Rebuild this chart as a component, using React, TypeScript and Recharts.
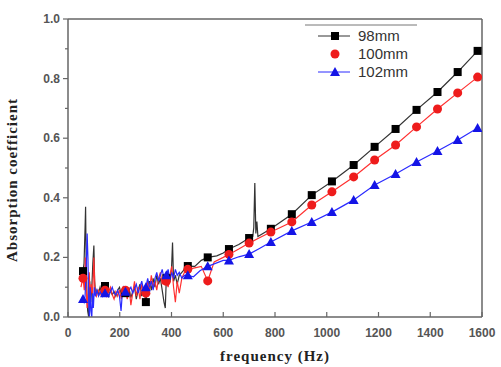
import { LineChart, Line, XAxis, YAxis, ReferenceLine, Legend } from 'recharts';

// [frequency (Hz), absorption coefficient]
const S98: [number, number][] = [
  [50, 0.13], [55, 0.15], [58, 0.154], [62, 0.18], [66, 0.3], [68, 0.37], [70, 0.2], [73, 0.08],
  [76, 0.02], [80, 0.0], [84, 0.12], [88, 0.05], [92, 0.1], [96, 0.18], [100, 0.24], [103, 0.12],
  [107, 0.07], [112, 0.09], [118, 0.08], [124, 0.1], [130, 0.08], [136, 0.09], [143, 0.104],
  [150, 0.085], [157, 0.07], [164, 0.09], [171, 0.075], [178, 0.085], [185, 0.07], [192, 0.09],
  [199, 0.1], [206, 0.075], [213, 0.085], [222, 0.08], [229, 0.07], [236, 0.095], [243, 0.065],
  [250, 0.085], [257, 0.1], [264, 0.06], [271, 0.09], [278, 0.11], [285, 0.07], [292, 0.1],
  [301, 0.05], [308, 0.1], [315, 0.12], [322, 0.09], [329, 0.13], [336, 0.1], [343, 0.14],
  [350, 0.11], [357, 0.13], [364, 0.09], [371, 0.05], [376, 0.03], [380, 0.13], [387, 0.15],
  [394, 0.13], [400, 0.16], [404, 0.25], [408, 0.12], [415, 0.14], [422, 0.11], [430, 0.14],
  [440, 0.15], [450, 0.16], [463, 0.171], [490, 0.17], [515, 0.19], [540, 0.2], [575, 0.205],
  [600, 0.215], [622, 0.228], [660, 0.243], [700, 0.265], [714, 0.27], [718, 0.3], [722, 0.45],
  [726, 0.28], [730, 0.32], [734, 0.27], [784, 0.296], [865, 0.345], [942, 0.409], [1020, 0.455],
  [1104, 0.51], [1185, 0.571], [1266, 0.631], [1347, 0.695], [1428, 0.755], [1506, 0.822],
  [1583, 0.893],
];

const S100: [number, number][] = [
  [50, 0.1], [55, 0.12], [58, 0.13], [63, 0.09], [67, 0.2], [70, 0.1], [74, 0.03], [78, 0.08],
  [82, 0.15], [86, 0.06], [90, 0.11], [95, 0.07], [100, 0.2], [104, 0.09], [110, 0.07],
  [117, 0.09], [124, 0.075], [131, 0.095], [138, 0.08], [143, 0.09], [150, 0.07], [157, 0.085],
  [164, 0.1], [171, 0.075], [178, 0.06], [185, 0.085], [192, 0.07], [199, 0.09], [206, 0.06],
  [213, 0.1], [222, 0.09], [229, 0.06], [236, 0.1], [243, 0.04], [250, 0.08], [257, 0.12],
  [264, 0.07], [271, 0.1], [278, 0.06], [285, 0.11], [292, 0.09], [301, 0.08], [308, 0.12],
  [315, 0.09], [322, 0.14], [329, 0.1], [336, 0.12], [343, 0.09], [350, 0.13], [357, 0.15],
  [364, 0.11], [371, 0.13], [380, 0.12], [387, 0.1], [394, 0.14], [401, 0.17], [408, 0.1],
  [415, 0.05], [422, 0.12], [430, 0.08], [440, 0.13], [450, 0.15], [463, 0.16], [490, 0.165],
  [515, 0.17], [540, 0.121], [565, 0.185], [600, 0.2], [622, 0.21], [660, 0.228], [700, 0.248],
  [740, 0.266], [784, 0.285], [865, 0.319], [942, 0.376], [1020, 0.42], [1104, 0.47],
  [1185, 0.527], [1266, 0.577], [1347, 0.638], [1428, 0.698], [1506, 0.752], [1583, 0.805],
];

const S102: [number, number][] = [
  [50, 0.05], [55, 0.06], [58, 0.06], [62, 0.05], [66, 0.07], [70, 0.15], [74, 0.28], [77, 0.2],
  [80, 0.05], [83, 0.0], [86, 0.1], [89, 0.02], [92, 0.0], [95, 0.08], [98, 0.03], [102, 0.1],
  [106, 0.07], [112, 0.09], [118, 0.07], [125, 0.085], [132, 0.07], [138, 0.09], [143, 0.08],
  [150, 0.09], [157, 0.07], [164, 0.085], [171, 0.1], [178, 0.08], [185, 0.075], [192, 0.09],
  [199, 0.07], [205, 0.02], [210, 0.08], [216, 0.1], [222, 0.085], [229, 0.075], [236, 0.09],
  [243, 0.1], [250, 0.08], [257, 0.095], [264, 0.11], [271, 0.08], [278, 0.1], [285, 0.12],
  [292, 0.09], [301, 0.1], [308, 0.13], [315, 0.1], [322, 0.12], [329, 0.09], [336, 0.13],
  [343, 0.15], [350, 0.12], [357, 0.14], [364, 0.16], [371, 0.13], [380, 0.14], [387, 0.16],
  [394, 0.12], [401, 0.15], [408, 0.13], [415, 0.16], [422, 0.14], [430, 0.15], [440, 0.13],
  [450, 0.14], [463, 0.14], [485, 0.135], [510, 0.155], [540, 0.17], [570, 0.18], [600, 0.19],
  [622, 0.19], [660, 0.202], [700, 0.211], [740, 0.23], [784, 0.252], [865, 0.289], [942, 0.319],
  [1020, 0.352], [1104, 0.393], [1185, 0.443], [1266, 0.48], [1347, 0.52], [1428, 0.557],
  [1506, 0.594], [1583, 0.634],
];

// frequencies where the symbols are drawn
const MARK_FREQS = [58, 143, 222, 301, 380, 463, 540, 622, 700, 784, 865, 942, 1020, 1104, 1185, 1266, 1347, 1428, 1506, 1583];

const NAMES = ['98mm', '100mm', '102mm'];
const LINE_COLORS = ['#333333', '#ff3030', '#2a2aff'];
const MARK_COLORS = ['#000000', '#ee1c1c', '#1414e6'];

const X_TICKS = [0, 100, 200, 300, 400, 500, 600, 700, 800, 900, 1000, 1100, 1200, 1300, 1400, 1500, 1600];
const Y_TICKS = [0, 0.1, 0.2, 0.3, 0.4, 0.5, 0.6, 0.7, 0.8, 0.9, 1.0];

const AXIS = '#666';
const TICK_FONT = { fontFamily: '"Liberation Sans", Arial, sans-serif', fontSize: 12, fontWeight: 700, fill: '#555' };
const LABEL_FONT = { fontFamily: '"Liberation Serif", "Times New Roman", serif', fontSize: 15, fontWeight: 700, fill: '#222', letterSpacing: 1 };

const toRows = (s: [number, number][]) => s.map(([f, v]) => ({ f, v }));

function Marker({ kind, cx, cy }: { kind: number; cx: number; cy: number }) {
  if (kind === 0) return <rect x={cx - 4} y={cy - 4} width={8} height={8} fill={MARK_COLORS[0]} />;
  if (kind === 1) return <circle cx={cx} cy={cy} r={4.5} fill={MARK_COLORS[1]} />;
  return <polygon points={`${cx},${cy - 5} ${cx + 5},${cy + 4} ${cx - 5},${cy + 4}`} fill={MARK_COLORS[2]} />;
}

const makeDot = (kind: number) => (props: any) => {
  const { cx, cy, payload, index } = props;
  if (!MARK_FREQS.includes(payload.f)) return <g key={`d${kind}-${index}`} />;
  return (
    <g key={`d${kind}-${index}`}>
      <Marker kind={kind} cx={cx} cy={cy} />
    </g>
  );
};

const XTick = (props: any) => {
  const { x, y, payload } = props;
  const major = payload.value % 200 === 0;
  return (
    <g>
      <line x1={x} x2={x} y1={y} y2={y - (major ? 5 : 3)} stroke={AXIS} strokeWidth={1.2} />
      {major && (
        <text x={x} y={y + 20} textAnchor="middle" {...TICK_FONT}>
          {payload.value}
        </text>
      )}
    </g>
  );
};

const YTick = (props: any) => {
  const { x, y, payload } = props;
  const major = Math.round(payload.value * 10) % 2 === 0;
  return (
    <g>
      <line x1={x} x2={x - (major ? 5 : 3)} y1={y} y2={y} stroke={AXIS} strokeWidth={1.2} />
      {major && (
        <text x={x - 8} y={y + 4} textAnchor="end" {...TICK_FONT}>
          {payload.value.toFixed(1)}
        </text>
      )}
    </g>
  );
};

function LegendBox() {
  return (
    <svg width={125} height={62} style={{ display: 'block' }}>
      <line x1={5} x2={117} y1={1} y2={1} stroke="#777" strokeWidth={1} />
      {NAMES.map((name, i) => {
        const cy = 12 + i * 18;
        return (
          <g key={name}>
            {i !== 1 && <line x1={18} x2={50} y1={cy} y2={cy} stroke={LINE_COLORS[i]} strokeWidth={1} />}
            <Marker kind={i} cx={35} cy={cy} />
            <text x={58} y={cy + 5} fontFamily='"Liberation Sans", Arial, sans-serif' fontSize={15} fill="#333">
              {name}
            </text>
          </g>
        );
      })}
    </svg>
  );
}

export default function App() {
  const series = [toRows(S98), toRows(S100), toRows(S102)];
  return (
    <div style={{ position: 'absolute', left: 0, top: 0, background: '#fff' }}>
      <LineChart width={501} height={367} margin={{ top: 19, right: 19, left: 0, bottom: 0 }}>
        <XAxis
          dataKey="f"
          type="number"
          domain={[0, 1600]}
          ticks={X_TICKS}
          height={50}
          tickSize={0}
          tickMargin={0}
          tick={<XTick />}
          stroke={AXIS}
          strokeWidth={1.5}
          allowDataOverflow
          label={{
            content: ({ viewBox }: any) => (
              <text x={viewBox.x + viewBox.width / 2} y={viewBox.y + 44} textAnchor="middle" {...LABEL_FONT}>
                frequency (Hz)
              </text>
            ),
          }}
        />
        <YAxis
          type="number"
          domain={[0, 1]}
          ticks={Y_TICKS}
          width={68}
          tickSize={0}
          tickMargin={0}
          tick={<YTick />}
          stroke={AXIS}
          strokeWidth={1.5}
          allowDataOverflow
          label={{
            content: ({ viewBox }: any) => {
              const cx = viewBox.x + 14;
              const cy = viewBox.y + viewBox.height / 2 + 12;
              return (
                <text x={cx} y={cy} transform={`rotate(-90 ${cx} ${cy})`} textAnchor="middle" dominantBaseline="middle" {...LABEL_FONT}>
                  Absorption coefficient
                </text>
              );
            },
          }}
        />
        <ReferenceLine y={1} stroke={AXIS} strokeWidth={1.5} />
        <ReferenceLine x={1600} stroke={AXIS} strokeWidth={1.5} />
        {series.map((rows, i) => (
          <Line
            key={NAMES[i]}
            data={rows}
            dataKey="v"
            name={NAMES[i]}
            type="linear"
            stroke={LINE_COLORS[i]}
            strokeWidth={1.2}
            dot={makeDot(i)}
            activeDot={false}
            isAnimationActive={false}
          />
        ))}
        <Legend
          layout="vertical"
          align="center"
          verticalAlign="middle"
          wrapperStyle={{ left: 300, top: 24, width: 125 }}
          content={() => <LegendBox />}
        />
      </LineChart>
    </div>
  );
}
